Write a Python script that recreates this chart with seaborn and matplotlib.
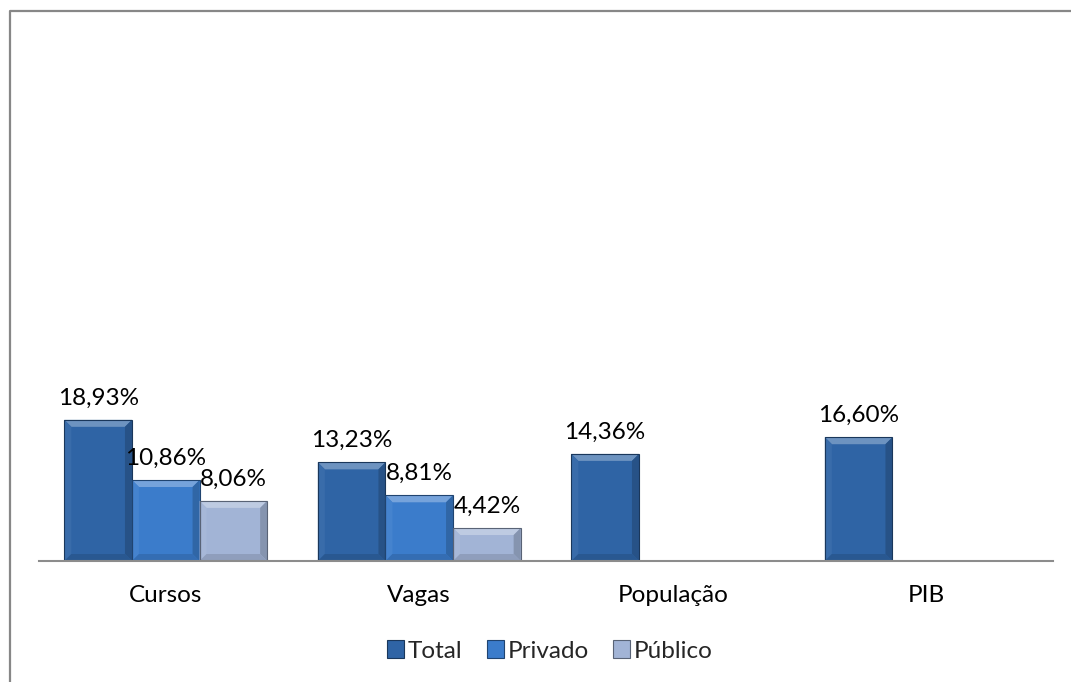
import numpy as np
import pandas as pd
import matplotlib
matplotlib.use("Agg")
import matplotlib.pyplot as plt
from matplotlib.patches import Polygon, Patch
from matplotlib.lines import Line2D
import matplotlib.colors as mcolors
import seaborn as sns

# Data
categories = ["Cursos", "Vagas", "População", "PIB"]
series_names = ["Total", "Privado", "Público"]
total = [18.93, 13.23, 14.36, 16.60]
privado = [10.86, 8.81, np.nan, np.nan]
publico = [8.06, 4.42, np.nan, np.nan]

colors = {"Total": "#2F64A5", "Privado": "#3B7CCB", "Público": "#A2B4D6"}

rows = []
for series, vals in zip(series_names, [total, privado, publico]):
    for cat, v in zip(categories, vals):
        rows.append({"categoria": cat, "serie": series, "valor": v})
df = pd.DataFrame(rows)

sns.set_theme(style="white")
plt.rcParams["font.family"] = ["Lato", "DejaVu Sans"]
FS = 17.5

W, H = 1071, 682
fig = plt.figure(figsize=(W / 100, H / 100), dpi=100)
ax_left, ax_bottom = 39 / W, (H - 561) / H
ax_w, ax_h = 1014 / W, 522 / H
ax = fig.add_axes([ax_left, ax_bottom, ax_w, ax_h])

sns.barplot(data=df, x="categoria", y="valor", hue="serie", order=categories,
            hue_order=series_names, palette=colors, width=0.8, saturation=1,
            ax=ax, legend=False, linewidth=0.8, edgecolor="none")
ax.set_ylim(0, 70)
ax.set_xlim(-0.5, len(categories) - 0.5)

# Beveled bar faces
px_x = (ax.get_xlim()[1] - ax.get_xlim()[0]) / 1014
px_y = 70 / 522
bev = 7


def shade(c, f):
    r = np.array(mcolors.to_rgb(c))
    if f > 0:
        r = r + (1 - r) * f
    else:
        r = r * (1 + f)
    return tuple(np.clip(r, 0, 1))


for container, name in zip(ax.containers, series_names):
    base = colors[name]
    for p in container.patches:
        h = p.get_height()
        if not np.isfinite(h) or h <= 0:
            continue
        x0, y0, w = p.get_x(), p.get_y(), p.get_width()
        x1, y1 = x0 + w, y0 + h
        bx, by = bev * px_x, min(bev * px_y, h / 3)
        facets = [
            ([(x0, y1), (x1, y1), (x1 - bx, y1 - by), (x0 + bx, y1 - by)], 0.30),
            ([(x0, y0), (x0, y1), (x0 + bx, y1 - by), (x0 + bx, y0 + by)], 0.05),
            ([(x1, y0), (x1, y1), (x1 - bx, y1 - by), (x1 - bx, y0 + by)], -0.18),
            ([(x0, y0), (x1, y0), (x1 - bx, y0 + by), (x0 + bx, y0 + by)], -0.12),
        ]
        for pts, f in facets:
            ax.add_patch(Polygon(pts, closed=True, facecolor=shade(base, f),
                                 edgecolor="none", zorder=p.get_zorder() + 0.1))
        ax.add_patch(plt.Rectangle((x0, y0), w, h, fill=False,
                                   edgecolor=shade(base, -0.45), linewidth=0.8,
                                   zorder=p.get_zorder() + 0.2))

# Value labels
for container in ax.containers:
    ax.bar_label(container, fmt=lambda v: f"{v:.2f}%".replace(".", ","),
                 padding=8, fontsize=FS, color="black")

ax.set_xlabel("")
ax.set_ylabel("")
ax.set_yticks([])
ax.tick_params(axis="x", length=0, pad=17, labelsize=FS, labelcolor="black")
for s in ["top", "right", "left"]:
    ax.spines[s].set_visible(False)
ax.spines["bottom"].set_color("#8C8C8C")
ax.spines["bottom"].set_linewidth(1.5)

# Legend
handles = [Patch(facecolor=colors[n], edgecolor=shade(colors[n], -0.45), linewidth=0.8)
           for n in series_names]
fig.legend(handles, series_names, loc="center", bbox_to_anchor=(550 / W, (H - 651) / H),
           ncol=3, frameon=False, fontsize=FS, handlelength=0.7, handleheight=0.7,
           handletextpad=0.15, columnspacing=1.0)

# Outer chart border (left and top)
fig.add_artist(Line2D([9.5 / W, 9.5 / W, 1.0], [0.0, 1 - 10.5 / H, 1 - 10.5 / H],
                      transform=fig.transFigure, color="#878787", linewidth=1.6))

fig.savefig("out.png", dpi=100, facecolor="white")
